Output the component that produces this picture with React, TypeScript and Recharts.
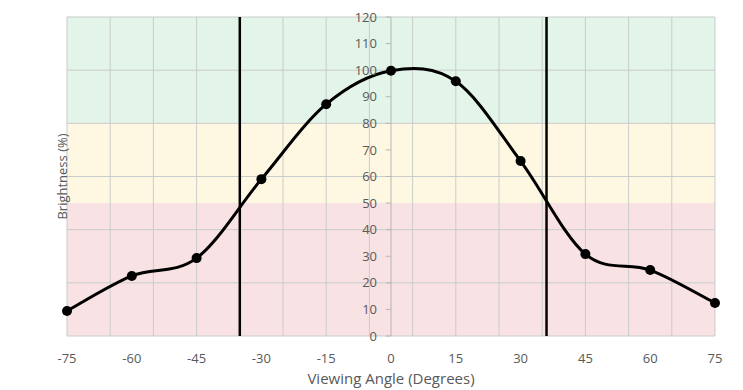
import React from 'react';
import {
  LineChart,
  Line,
  XAxis,
  YAxis,
  ReferenceArea,
  ReferenceLine,
  ReferenceDot,
} from 'recharts';

// Viewing angle test points
const angles = [-75, -60, -45, -30, -15, 0, 15, 30, 45, 60, 75];
const brightness = [9.4, 22.6, 29.3, 59, 87.2, 99.8, 95.8, 65.8, 30.8, 24.8, 12.4];

const xTicks = [-75, -60, -45, -30, -15, 0, 15, 30, 45, 60, 75];
const yTicks = [0, 10, 20, 30, 40, 50, 60, 70, 80, 90, 100, 110, 120];
const gridX = [-75, -65, -55, -45, -35, -25, -15, -5, 5, 15, 25, 35, 45, 55, 65, 75];
const gridY = [0, 20, 40, 60, 80, 100, 120];

// color bands: [from, to, color]
const bands: [number, number, string][] = [
  [80, 120, '#e3f4e9'],
  [50, 80, '#fef8e3'],
  [0, 50, '#f9e2e4'],
];

// the two viewing-angle limits
const limits = [-35, 36];

const data = angles.map((a, i) => ({ angle: a, value: brightness[i] }));

const TEXT = '#595959';
const FONT = '"Open Sans", sans-serif';

// Excel-like smoothed line (Catmull-Rom through every point)
const smoothCurve = (context: any) => {
  let pts: number[][] = [];
  return {
    areaStart() {},
    areaEnd() {},
    lineStart() {
      pts = [];
    },
    point(x: number, y: number) {
      pts.push([+x, +y]);
    },
    lineEnd() {
      if (!pts.length) return;
      context.moveTo(pts[0][0], pts[0][1]);
      for (let i = 0; i < pts.length - 1; i++) {
        const p0 = pts[i - 1] || pts[i];
        const p1 = pts[i];
        const p2 = pts[i + 1];
        const p3 = pts[i + 2] || p2;
        context.bezierCurveTo(
          p1[0] + (p2[0] - p0[0]) / 6,
          p1[1] + (p2[1] - p0[1]) / 6,
          p2[0] - (p3[0] - p1[0]) / 6,
          p2[1] - (p3[1] - p1[1]) / 6,
          p2[0],
          p2[1]
        );
      }
    },
  };
};

const App = () => {
  return (
    <div style={{ position: 'absolute', left: 0, top: 0, fontFamily: FONT }}>
      <LineChart
        width={743}
        height={390}
        data={data}
        margin={{ top: 17, right: 28, left: 47, bottom: 24 }}
      >
        <XAxis
          dataKey="angle"
          type="number"
          domain={[-75, 75]}
          ticks={xTicks}
          axisLine={false}
          tickLine={false}
          tickSize={0}
          tickMargin={18}
          height={30}
          tick={{ fill: TEXT, fontSize: 13, fontFamily: FONT }}
          label={{
            value: 'Viewing Angle (Degrees)',
            position: 'insideBottom',
            offset: -18,
            fill: TEXT,
            fontSize: 15,
            fontFamily: FONT,
          }}
        />
        <XAxis
          xAxisId="top"
          orientation="top"
          dataKey="angle"
          type="number"
          domain={[-75, 75]}
          ticks={xTicks}
          height={0}
          tickSize={4}
          tickFormatter={() => ''}
          stroke="#bfbfbf"
        />
        <YAxis
          type="number"
          domain={[0, 120]}
          ticks={gridY}
          width={20}
          tick={false}
          axisLine={false}
          tickLine={false}
          label={{
            value: 'Brightness (%)',
            angle: -90,
            position: 'center',
            dx: 5,
            fill: TEXT,
            fontSize: 13,
            fontFamily: FONT,
          }}
        />

        {bands.map(([y1, y2, c]) => (
          <ReferenceArea key={c} y1={y1} y2={y2} fill={c} fillOpacity={1} stroke="none" />
        ))}
        {gridX.map((v) => (
          <ReferenceLine key={'gx' + v} x={v} stroke="#c9cccb" strokeWidth={1} />
        ))}
        {gridY.map((v) => (
          <ReferenceLine key={'gy' + v} y={v} stroke="#c9cccb" strokeWidth={1} />
        ))}

        {/* center y axis */}
        <ReferenceLine x={0} stroke="#b5b5b5" strokeWidth={1} />
        {yTicks.map((v) => (
          <ReferenceLine
            key={'yt' + v}
            segment={[
              { x: -1.2, y: v },
              { x: 0, y: v },
            ]}
            stroke="#b5b5b5"
          />
        ))}
        {yTicks.map((v) => (
          <ReferenceDot
            key={'yl' + v}
            x={0}
            y={v}
            r={0}
            fill="none"
            stroke="none"
            label={{ value: String(v), position: 'left', offset: 14, fill: TEXT, fontSize: 13, fontFamily: FONT }}
          />
        ))}

        {limits.map((v) => (
          <ReferenceLine key={'lim' + v} x={v} stroke="#000" strokeWidth={2.5} />
        ))}

        <Line
          dataKey="value"
          type={smoothCurve as any}
          stroke="#000"
          strokeWidth={3}
          dot={{ r: 5, fill: '#000', stroke: '#000', strokeWidth: 0 }}
          activeDot={false}
          isAnimationActive={false}
        />
      </LineChart>
    </div>
  );
};

export default App;
